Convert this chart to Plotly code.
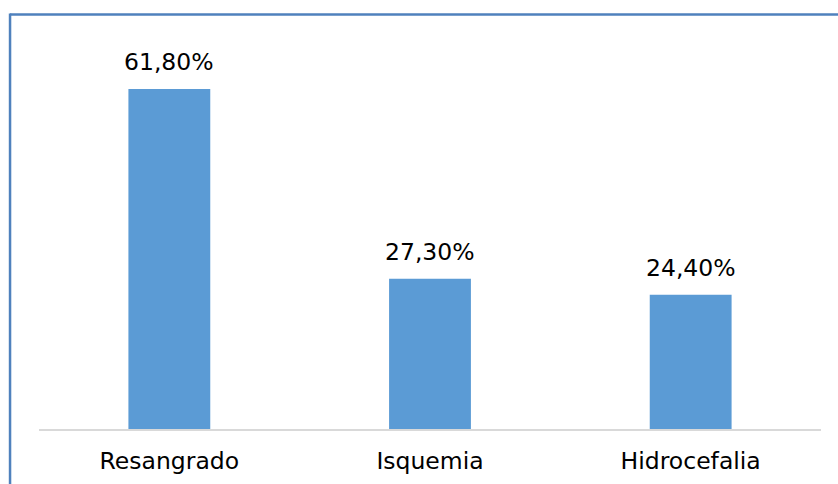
import plotly.graph_objects as go

categories = ["Resangrado", "Isquemia", "Hidrocefalia"]
values = [61.8, 27.3, 24.4]
labels = ["61,80%", "27,30%", "24,40%"]

W, H = 838, 484
L, R, T, B = 38.5, 16.5, 44, 55
pw = W - L - R
ph = H - T - B

def px_x(p):
    return (p - L) / pw

def px_y(p):
    return (H - B - p) / ph

fig = go.Figure()
fig.add_trace(go.Bar(
    x=categories, y=values,
    marker=dict(color="#5B9BD5", line=dict(width=0)),
    hoverinfo="skip",
))

for c, v, t in zip(categories, values, labels):
    fig.add_annotation(x=c, y=v, text=t, showarrow=False, yanchor="bottom",
                       yshift=11, font=dict(family="DejaVu Sans", size=23.5, color="#000000"))

border = "#4F81BD"
fig.add_shape(type="line", xref="paper", yref="paper",
              x0=px_x(9.5), x1=px_x(840), y0=px_y(14.5), y1=px_y(14.5),
              line=dict(color=border, width=2.5))
fig.add_shape(type="line", xref="paper", yref="paper",
              x0=px_x(9.5), x1=px_x(9.5), y0=px_y(13.5), y1=px_y(490),
              line=dict(color=border, width=2.5))

fig.update_layout(
    width=W, height=H,
    margin=dict(l=L, r=R, t=T, b=B, autoexpand=False),
    paper_bgcolor="white", plot_bgcolor="white",
    bargap=0.686,
    showlegend=False,
    font=dict(family="DejaVu Sans", size=23.5, color="#000000"),
    xaxis=dict(showline=True, linecolor="#D9D9D9", linewidth=1.5,
               ticks="outside", ticklen=10, tickcolor="rgba(0,0,0,0)",
               tickfont=dict(family="DejaVu Sans", size=23.5, color="#000000"),
               showgrid=False, zeroline=False, automargin=False),
    yaxis=dict(range=[0, 70], visible=False, showgrid=False, zeroline=False, automargin=False),
)

fig.write_html("out.html")
